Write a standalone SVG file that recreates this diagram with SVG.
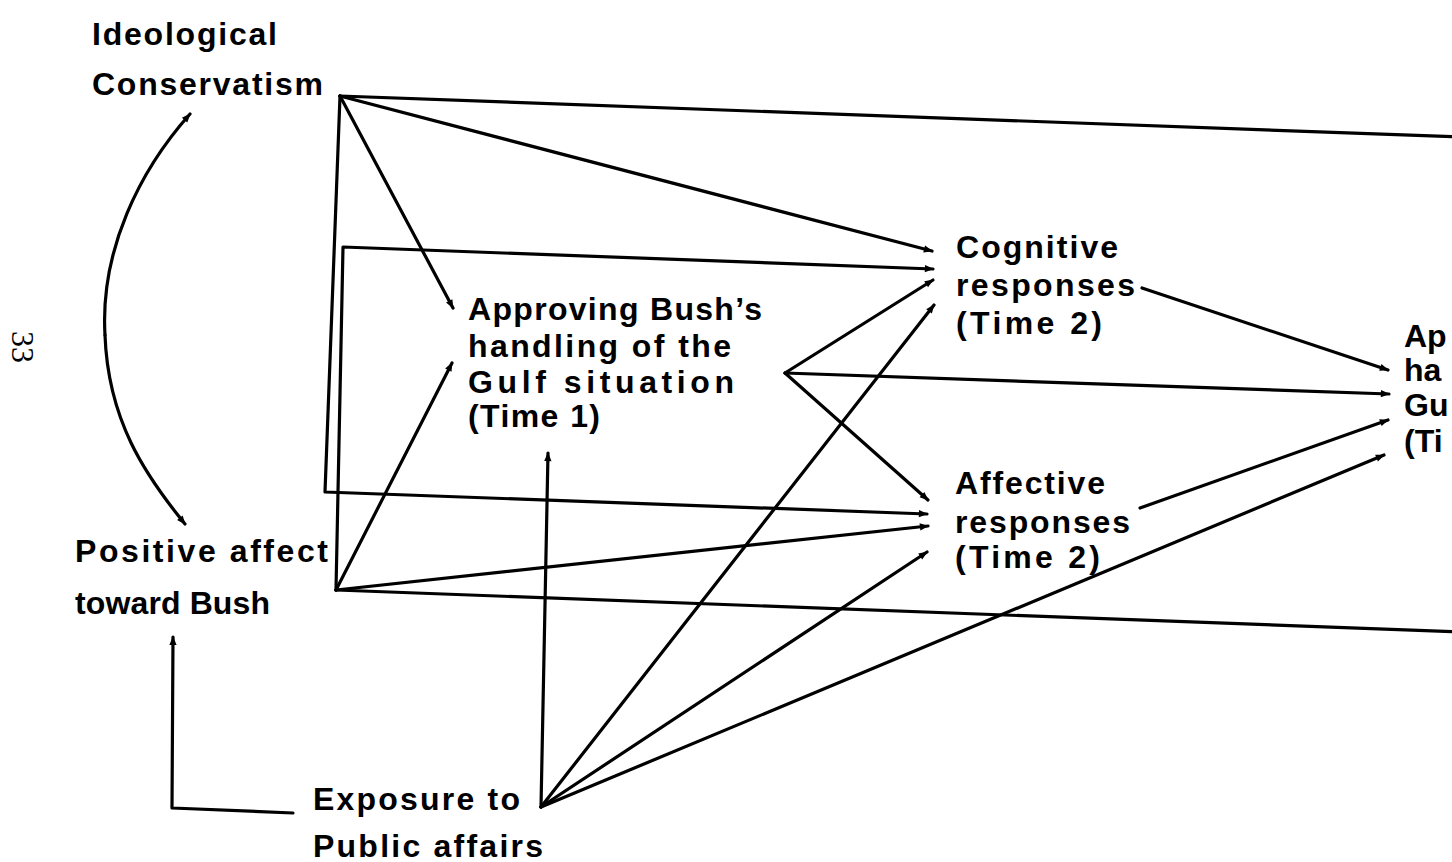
<svg xmlns="http://www.w3.org/2000/svg" width="1452" height="862" viewBox="0 0 1452 862">
<defs>
<marker id="ah" viewBox="0 0 10 10" refX="9" refY="5" markerWidth="11" markerHeight="9" markerUnits="userSpaceOnUse" orient="auto">
<path d="M0,1 L10,5 L0,9 z" fill="#000"/>
</marker>
</defs>
<style>
.t{font-family:"Liberation Sans",Arial,sans-serif;font-weight:bold;font-size:32px;fill:#000}
.n{font-family:"Liberation Serif","Times New Roman",serif;font-size:32px;fill:#000}
.c{fill:none;stroke:#000;stroke-width:3.2;stroke-linecap:round;stroke-linejoin:round}
.a{marker-end:url(#ah)}
</style>
<rect width="1452" height="862" fill="#fff"/>
<text class="n" transform="translate(12,331) rotate(90)">33</text>
<g id="connectors">
<line class="c" x1="340" y1="96" x2="1460" y2="137"/>
<line class="c a" x1="340" y1="96" x2="932" y2="251"/>
<line class="c a" x1="340" y1="96" x2="453" y2="308"/>
<polyline class="c a" points="340,96 325,492 927,514"/>
<polyline class="c a" points="336,590 343,247 933,269"/>
<line class="c a" x1="336" y1="590" x2="452" y2="363"/>
<line class="c a" x1="336" y1="590" x2="928" y2="526"/>
<line class="c" x1="336" y1="590" x2="1460" y2="632"/>
<line class="c a" x1="785" y1="373" x2="933" y2="280"/>
<line class="c a" x1="785" y1="373" x2="928" y2="500"/>
<line class="c a" x1="785" y1="373" x2="1389" y2="394"/>
<line class="c a" x1="541" y1="807" x2="934" y2="305"/>
<line class="c a" x1="541" y1="807" x2="927" y2="552"/>
<line class="c a" x1="541" y1="807" x2="1384" y2="455"/>
<line class="c a" x1="541" y1="807" x2="548" y2="453"/>
<line class="c a" x1="1142" y1="288" x2="1388" y2="370"/>
<line class="c a" x1="1140" y1="508" x2="1388" y2="420"/>
<polyline class="c a" points="293,813 172,808 173,637"/>
<path class="c a" d="M105,335 C100,250 140,170 190,114"/>
<path class="c a" d="M105,335 C108,420 145,475 185,524"/>
</g>
<g id="ideological">
<text class="t" x="92" y="45" textLength="185" lengthAdjust="spacing">Ideological</text>
<text class="t" x="92" y="95" textLength="231" lengthAdjust="spacing">Conservatism</text>
</g>
<g id="approving1">
<text class="t" x="468" y="320" textLength="294" lengthAdjust="spacing">Approving Bush’s</text>
<text class="t" x="468" y="357" textLength="263" lengthAdjust="spacing">handling of the</text>
<text class="t" x="468" y="393" textLength="266" lengthAdjust="spacing">Gulf situation</text>
<text class="t" x="468" y="427" textLength="132" lengthAdjust="spacing">(Time 1)</text>
</g>
<g id="cognitive">
<text class="t" x="956" y="258" textLength="162" lengthAdjust="spacing">Cognitive</text>
<text class="t" x="956" y="296" textLength="179" lengthAdjust="spacing">responses</text>
<text class="t" x="956" y="334" textLength="146" lengthAdjust="spacing">(Time 2)</text>
</g>
<g id="approving2">
<text class="t" x="1404" y="347">Ap</text>
<text class="t" x="1404" y="381">ha</text>
<text class="t" x="1404" y="416">Gu</text>
<text class="t" x="1404" y="452">(Ti</text>
</g>
<g id="affective">
<text class="t" x="955" y="494" textLength="150" lengthAdjust="spacing">Affective</text>
<text class="t" x="955" y="533" textLength="175" lengthAdjust="spacing">responses</text>
<text class="t" x="955" y="568" textLength="145" lengthAdjust="spacing">(Time 2)</text>
</g>
<g id="positive">
<text class="t" x="75" y="562" textLength="253" lengthAdjust="spacing">Positive affect</text>
<text class="t" x="75" y="614" textLength="195" lengthAdjust="spacing">toward Bush</text>
</g>
<g id="exposure">
<text class="t" x="313" y="810" textLength="207" lengthAdjust="spacing">Exposure to</text>
<text class="t" x="313" y="857" textLength="230" lengthAdjust="spacing">Public affairs</text>
</g>
</svg>
